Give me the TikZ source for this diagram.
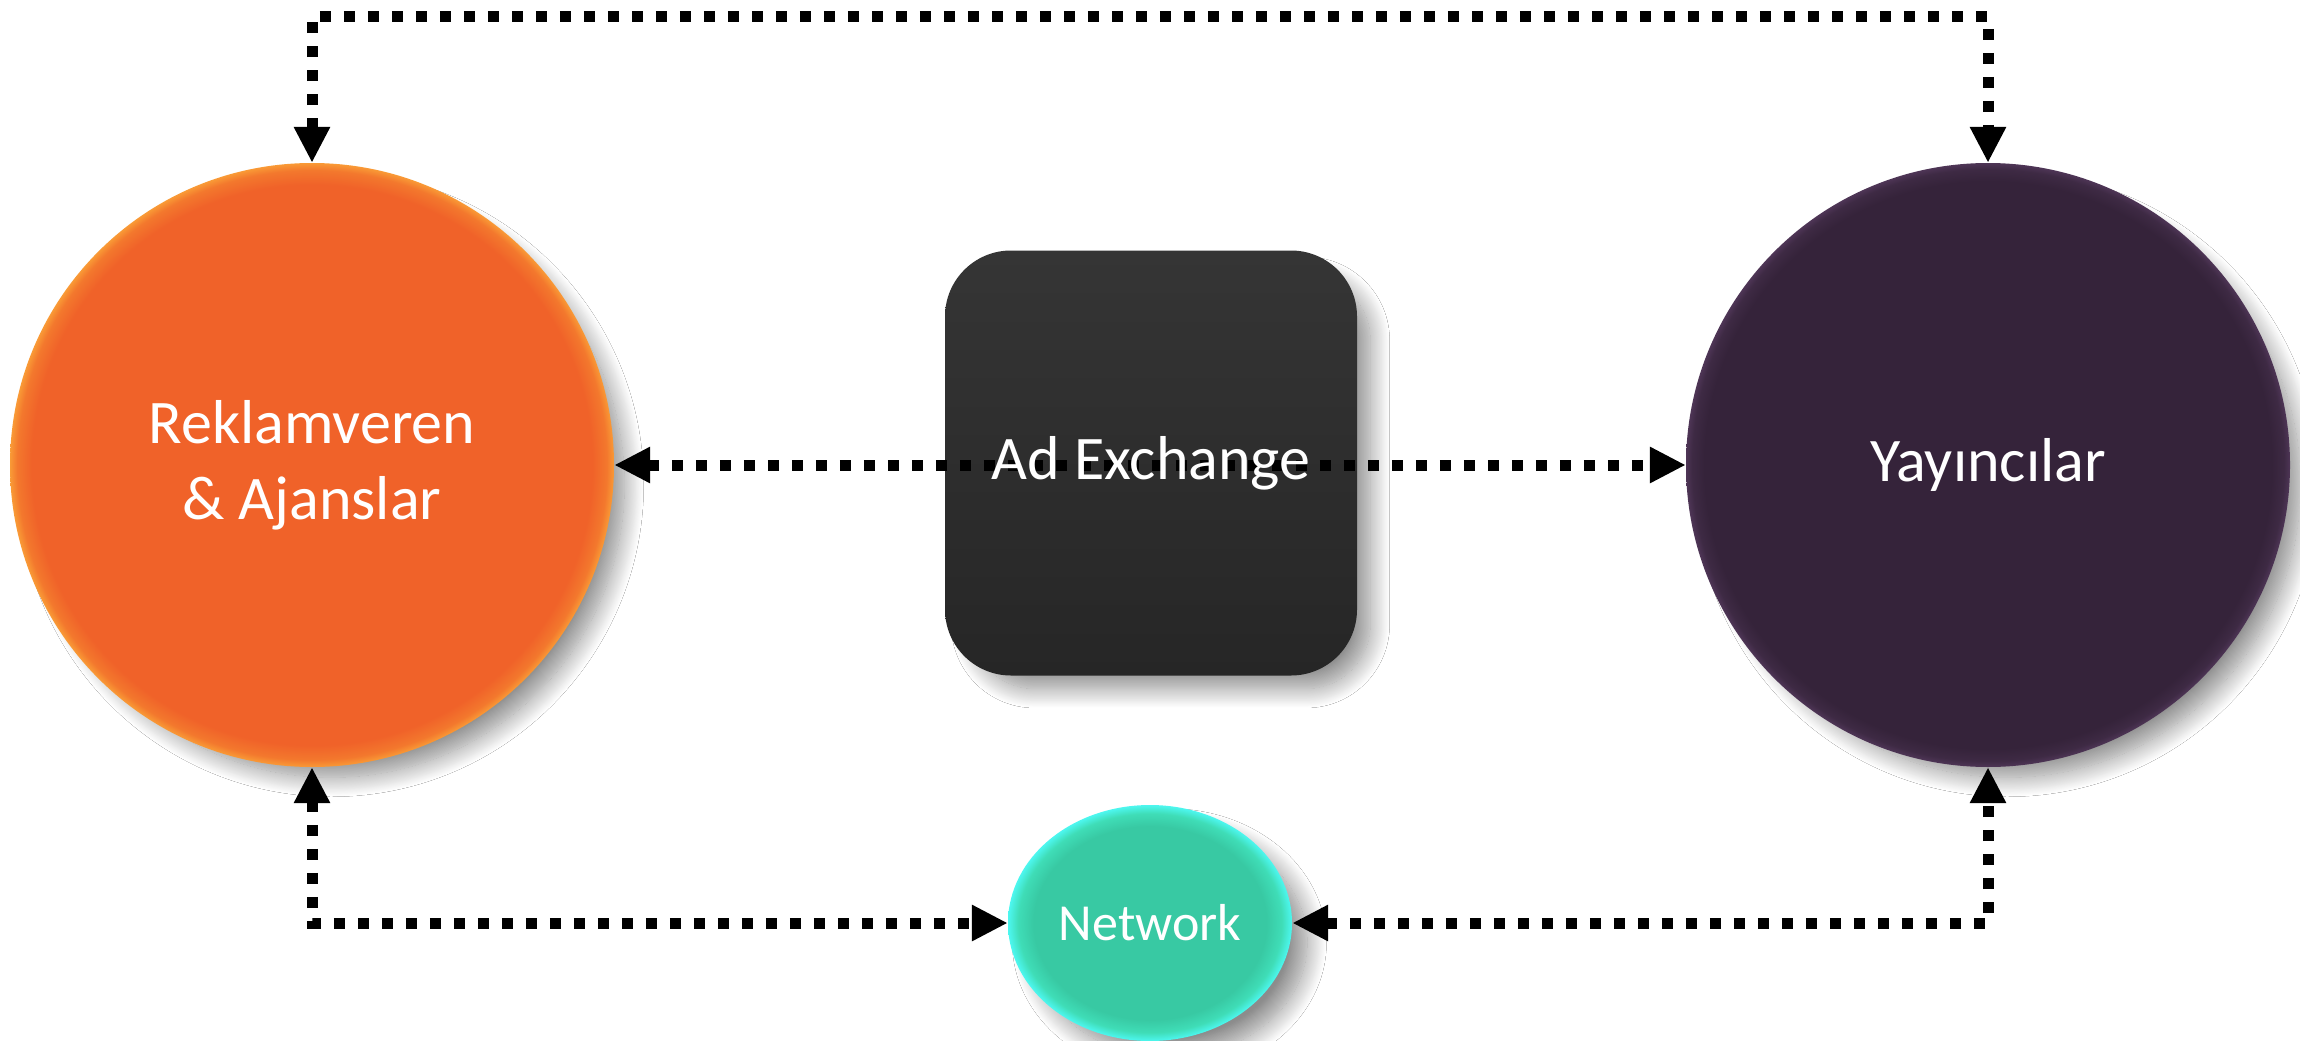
\documentclass[tikz,border=0pt]{standalone}
\usepackage{fontspec}
\setmainfont{Carlito}
\usetikzlibrary{arrows.meta,shadows.blur,shapes.geometric}
\definecolor{orgA}{HTML}{F06229}
\definecolor{orgB}{HTML}{F3782D}
\definecolor{orgC}{HTML}{F99A36}
\definecolor{purA}{HTML}{35233A}
\definecolor{purB}{HTML}{3E2A44}
\definecolor{purC}{HTML}{4E3556}
\definecolor{netA}{HTML}{38C9A3}
\definecolor{netB}{HTML}{3FDDB7}
\definecolor{netC}{HTML}{4DF7F0}
\definecolor{boxTop}{HTML}{353535}
\definecolor{boxBot}{HTML}{262626}
\pgfdeclareradialshading{orim}{\pgfpoint{0bp}{0bp}}{color(0bp)=(orgA);color(23.2bp)=(orgA);color(24.4bp)=(orgB);color(25bp)=(orgC);color(50bp)=(orgC)}
\pgfdeclareradialshading{prim}{\pgfpoint{0bp}{0bp}}{color(0bp)=(purA);color(23.5bp)=(purA);color(24.5bp)=(purB);color(25bp)=(purC);color(50bp)=(purC)}
\pgfdeclareradialshading{nrim}{\pgfpoint{0bp}{0bp}}{color(0bp)=(netA);color(20.5bp)=(netA);color(23.2bp)=(netB);color(25bp)=(netC);color(50bp)=(netC)}
\tikzset{
  softshadow/.style={blur shadow={shadow xshift=20pt,shadow yshift=-20pt,shadow scale=0.97,shadow blur radius=20pt,shadow blur steps=28,shadow opacity=45}},
  bigcircle/.style={circle,minimum size=604pt,inner sep=0pt,softshadow,text=white,align=center,font=\fontsize{62}{76}\selectfont},
  exbox/.style={rectangle,rounded corners=66pt,minimum width=412pt,minimum height=425pt,inner sep=0pt,softshadow,top color=boxTop,bottom color=boxBot},
  netnode/.style={ellipse,minimum width=284pt,minimum height=236pt,inner sep=0pt,softshadow,shading=nrim,text=white,font=\fontsize{52}{62}\selectfont},
  lbl/.style={text=white,font=\fontsize{62}{76}\selectfont},
  conn/.style={line width=11pt,dash pattern=on 11pt off 13pt,line join=miter,{Triangle[width=34pt,length=36pt]}-{Triangle[width=34pt,length=36pt]}}
}
\begin{document}
\begin{tikzpicture}[x=1pt,y=-1pt]
\useasboundingbox[fill=white] (0,0) rectangle (2300,1041);
\node[bigcircle,shading=orim] (L) at (312,465) {Reklamveren\\\& Ajanslar};
\node[bigcircle,shading=prim] (R) at (1988,465) {Yayıncılar};
\node[exbox] (X) at (1151,463) {};
\node[netnode] (N) at (1150,923) {Network};
\coordinate (tl) at (312,17);
\coordinate (tr) at (1988,17);
\draw[conn] (L.north) -- (tl) -- (tr) -- (R.north);
\draw[conn] (L.east) -- (R.west);
\draw[conn] (L.south) |- (N.west);
\draw[conn] (N.east) -| (R.south);
\node[lbl] (XL) at (X.center) {Ad Exchange};
\end{tikzpicture}
\end{document}
